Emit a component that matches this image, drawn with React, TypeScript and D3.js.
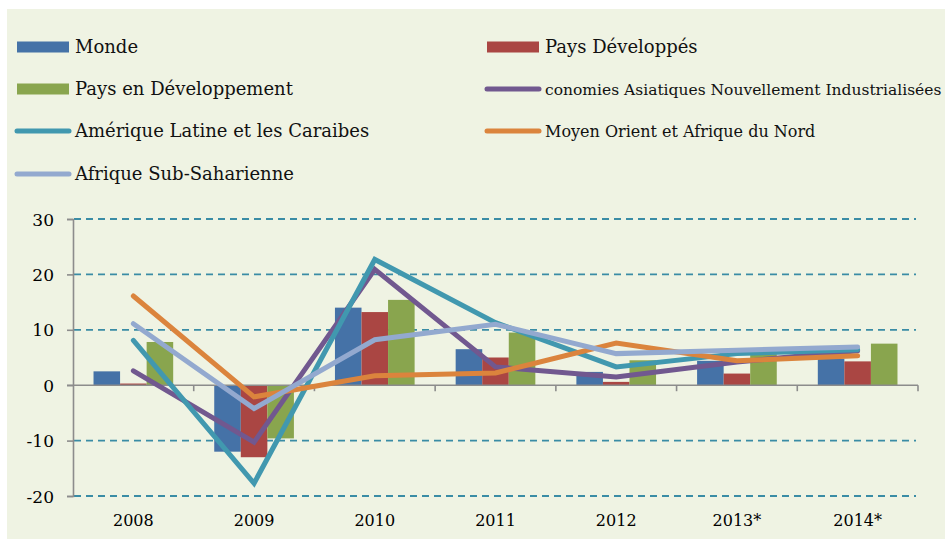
import { useEffect, useRef } from 'react';
import * as d3 from 'd3';

// categories
const years = ['2008', '2009', '2010', '2011', '2012', '2013*', '2014*'];

// bar series
const monde = [2.5, -12.0, 14.0, 6.5, 2.4, 4.4, 4.8];
const paysDeveloppes = [0.3, -13.0, 13.2, 5.0, 0.6, 2.1, 4.3];
const paysEnDeveloppement = [7.8, -9.6, 15.4, 9.5, 4.5, 5.6, 7.5];

// line series
const asiatiques = [2.6, -10.3, 20.9, 3.3, 1.5, 4.2, 6.2];
const ameriqueLatine = [8.1, -17.7, 22.7, 11.3, 3.3, 5.7, 6.4];
const moyenOrient = [16.1, -2.1, 1.7, 2.2, 7.6, 4.4, 5.3];
const afriqueSub = [11.1, -4.2, 8.2, 11.0, 5.7, 6.3, 6.9];

const yTicks = [-20, -10, 0, 10, 20, 30];

const barSeries = [
  { name: 'Monde', values: monde, color: '#4572A7' },
  { name: 'Pays Développés', values: paysDeveloppes, color: '#AA4643' },
  { name: 'Pays en Développement', values: paysEnDeveloppement, color: '#89A54E' },
];

const lineSeries = [
  { name: 'conomies Asiatiques Nouvellement Industrialisées', values: asiatiques, color: '#71588F' },
  { name: 'Amérique Latine et les Caraibes', values: ameriqueLatine, color: '#4198AF' },
  { name: 'Moyen Orient et Afrique du Nord', values: moyenOrient, color: '#DB843D' },
  { name: 'Afrique Sub-Saharienne', values: afriqueSub, color: '#93A9CF' },
];

const FONT = '"DejaVu Serif", serif';

export default function App() {
  const svgRef = useRef(null);

  useEffect(() => {
    const svg = d3.select(svgRef.current);
    svg.selectAll('*').remove();

    const width = 945;
    const height = 539;
    svg.attr('width', width).attr('height', height);

    // background panel
    svg.append('rect')
      .attr('x', 7).attr('y', 9)
      .attr('width', width - 7).attr('height', height - 9)
      .attr('fill', '#EFF3E3');

    // scales
    const x0 = d3.scaleBand().domain(years).range([73, 918]).paddingInner(0).paddingOuter(0);
    const bw = x0.bandwidth();
    const x1 = d3.scaleBand()
      .domain(barSeries.map(d => d.name))
      .range([bw * 0.17, bw * 0.83]);
    const y = d3.scaleLinear().domain([-20, 30]).range([496, 219]);

    // dashed grid
    svg.append('g')
      .selectAll('line')
      .data(yTicks.filter(t => t !== 0))
      .enter()
      .append('line')
      .attr('x1', 74).attr('x2', 916)
      .attr('y1', d => y(d)).attr('y2', d => y(d))
      .attr('stroke', '#3A8CA5')
      .attr('stroke-width', 1.8)
      .attr('stroke-dasharray', '7,5');

    // bars
    barSeries.forEach(s => {
      svg.append('g')
        .selectAll('rect')
        .data(s.values)
        .enter()
        .append('rect')
        .attr('x', (d, i) => x0(years[i]) + x1(s.name))
        .attr('y', d => y(Math.max(0, d)))
        .attr('width', x1.bandwidth())
        .attr('height', d => Math.abs(y(d) - y(0)))
        .attr('fill', s.color);
    });

    // axes
    const axisColor = '#8C8C8C';
    const yAxis = svg.append('g')
      .attr('transform', 'translate(73,0)')
      .call(d3.axisLeft(y).tickValues(yTicks).tickSize(6).tickFormat(d => String(d)));
    yAxis.select('.domain').attr('stroke', axisColor).attr('stroke-width', 1.6);
    yAxis.selectAll('.tick line').attr('stroke', axisColor).attr('stroke-width', 1.6);
    yAxis.selectAll('.tick text')
      .attr('x', -19)
      .attr('dy', '0.36em')
      .style('font-family', FONT)
      .style('font-size', '17px')
      .attr('fill', '#000');

    // x axis: line on zero, ticks at band edges
    svg.append('line')
      .attr('x1', 67).attr('x2', 918)
      .attr('y1', y(0)).attr('y2', y(0))
      .attr('stroke', axisColor).attr('stroke-width', 1.6);
    svg.append('g')
      .selectAll('line')
      .data(years)
      .enter()
      .append('line')
      .attr('x1', d => x0(d) + bw).attr('x2', d => x0(d) + bw)
      .attr('y1', y(0)).attr('y2', y(0) + 6)
      .attr('stroke', axisColor).attr('stroke-width', 1.6);

    svg.append('g')
      .selectAll('text')
      .data(years)
      .enter()
      .append('text')
      .attr('x', d => x0(d) + bw / 2)
      .attr('y', 526)
      .attr('text-anchor', 'middle')
      .style('font-family', FONT)
      .style('font-size', '16px')
      .attr('fill', '#000')
      .text(d => d);

    // lines
    const line = d3.line()
      .x((d, i) => x0(years[i]) + bw / 2)
      .y(d => y(d));

    lineSeries.forEach(s => {
      svg.append('path')
        .datum(s.values)
        .attr('fill', 'none')
        .attr('stroke', s.color)
        .attr('stroke-width', 5)
        .attr('stroke-linecap', 'round')
        .attr('stroke-linejoin', 'miter')
        .attr('d', line);
    });

    // legend
    const legendItems = [
      { s: barSeries[0], type: 'bar', x: 17, y: 47, size: 18 },
      { s: barSeries[1], type: 'bar', x: 487, y: 47, size: 18 },
      { s: barSeries[2], type: 'bar', x: 17, y: 89, size: 18 },
      { s: lineSeries[0], type: 'line', x: 487, y: 89, size: 15.5 },
      { s: lineSeries[1], type: 'line', x: 17, y: 131, size: 18 },
      { s: lineSeries[2], type: 'line', x: 487, y: 131, size: 16 },
      { s: lineSeries[3], type: 'line', x: 17, y: 174, size: 18 },
    ];

    const legend = svg.append('g');
    legendItems.forEach(item => {
      const row = legend.append('g').attr('transform', `translate(${item.x},${item.y})`);
      if (item.type === 'bar') {
        row.append('rect')
          .attr('x', 0).attr('y', -5.5)
          .attr('width', 52).attr('height', 11)
          .attr('fill', item.s.color);
      } else {
        row.append('line')
          .attr('x1', 0).attr('x2', 52)
          .attr('stroke', item.s.color)
          .attr('stroke-width', 5)
          .attr('stroke-linecap', 'round');
      }
      row.append('text')
        .attr('x', 58)
        .attr('y', 0)
        .attr('dy', '0.36em')
        .style('font-family', FONT)
        .style('font-size', `${item.size}px`)
        .attr('fill', '#111')
        .text(item.s.name);
    });
  }, []);

  return (
    <div style={{ position: 'absolute', left: 0, top: 0 }}>
      <svg ref={svgRef} style={{ display: 'block' }}></svg>
    </div>
  );
}
